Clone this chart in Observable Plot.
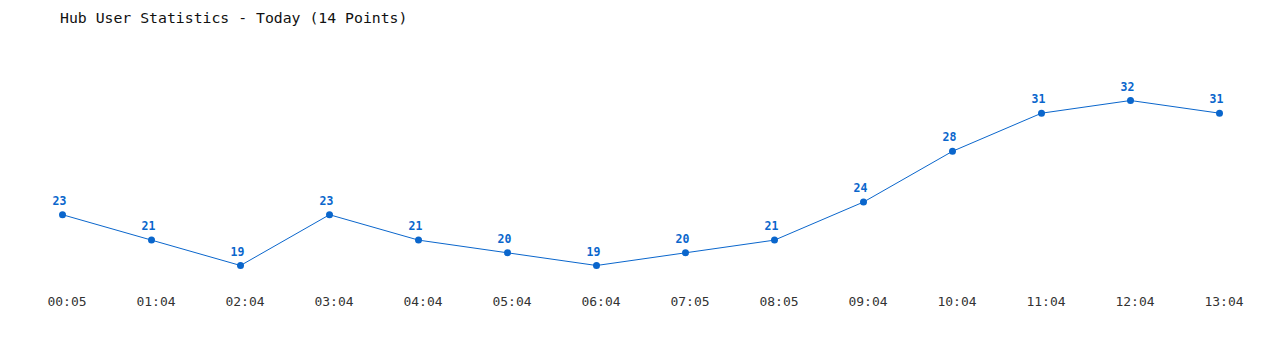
<!DOCTYPE html>
<html>
<head>
<meta charset="utf-8">
<script src="https://cdn.jsdelivr.net/npm/d3@7"></script>
<script src="https://cdn.jsdelivr.net/npm/@observablehq/plot@0.6"></script>
<style>
  html, body { margin: 0; padding: 0; background: #fff; }
  #wrap { position: relative; width: 1280px; height: 350px; }
  #title { position: absolute; left: 60px; top: 9px; font-family: "DejaVu Sans Mono", monospace; font-size: 14.8px; color: #111; white-space: pre; }
  #chart { position: absolute; left: 0; top: 0; }
</style>
</head>
<body>
<div id="wrap">
  <div id="chart"></div>
  <div id="title">Hub User Statistics - Today (14 Points)</div>
</div>
<script>
const times = ["00:05","01:04","02:04","03:04","04:04","05:04","06:04","07:05","08:05","09:04","10:04","11:04","12:04","13:04"];
const users = [23, 21, 19, 23, 21, 20, 19, 20, 21, 24, 28, 31, 32, 31];

const data = times.map((t, i) => ({time: t, users: users[i]}));
const blue = "#0a66cc";

const chart = Plot.plot({
  width: 1280,
  height: 350,
  marginTop: 0,
  marginBottom: 58,
  marginLeft: 0,
  marginRight: 0,
  style: {background: "transparent", fontFamily: "DejaVu Sans Mono, monospace"},
  x: {type: "point", domain: times, range: [60.5, 1220], padding: 0, label: null},
  y: {domain: [19, 32], range: [265, 100], axis: null},
  marks: [
    Plot.axisX({tickSize: 0, tickPadding: 4, dx: 4.5, fontSize: 13, color: "#333", label: null}),
    Plot.line(data, {x: "time", y: "users", stroke: blue, strokeWidth: 1}),
    Plot.dot(data, {x: "time", y: "users", r: 3.5, fill: blue, stroke: "none"}),
    Plot.text(data, {x: "time", y: "users", text: d => String(d.users), dx: -3, dy: -10, lineAnchor: "bottom", fill: blue, fontWeight: "bold", fontSize: 11.5})
  ]
});
document.getElementById("chart").appendChild(chart);
</script>
</body>
</html>
